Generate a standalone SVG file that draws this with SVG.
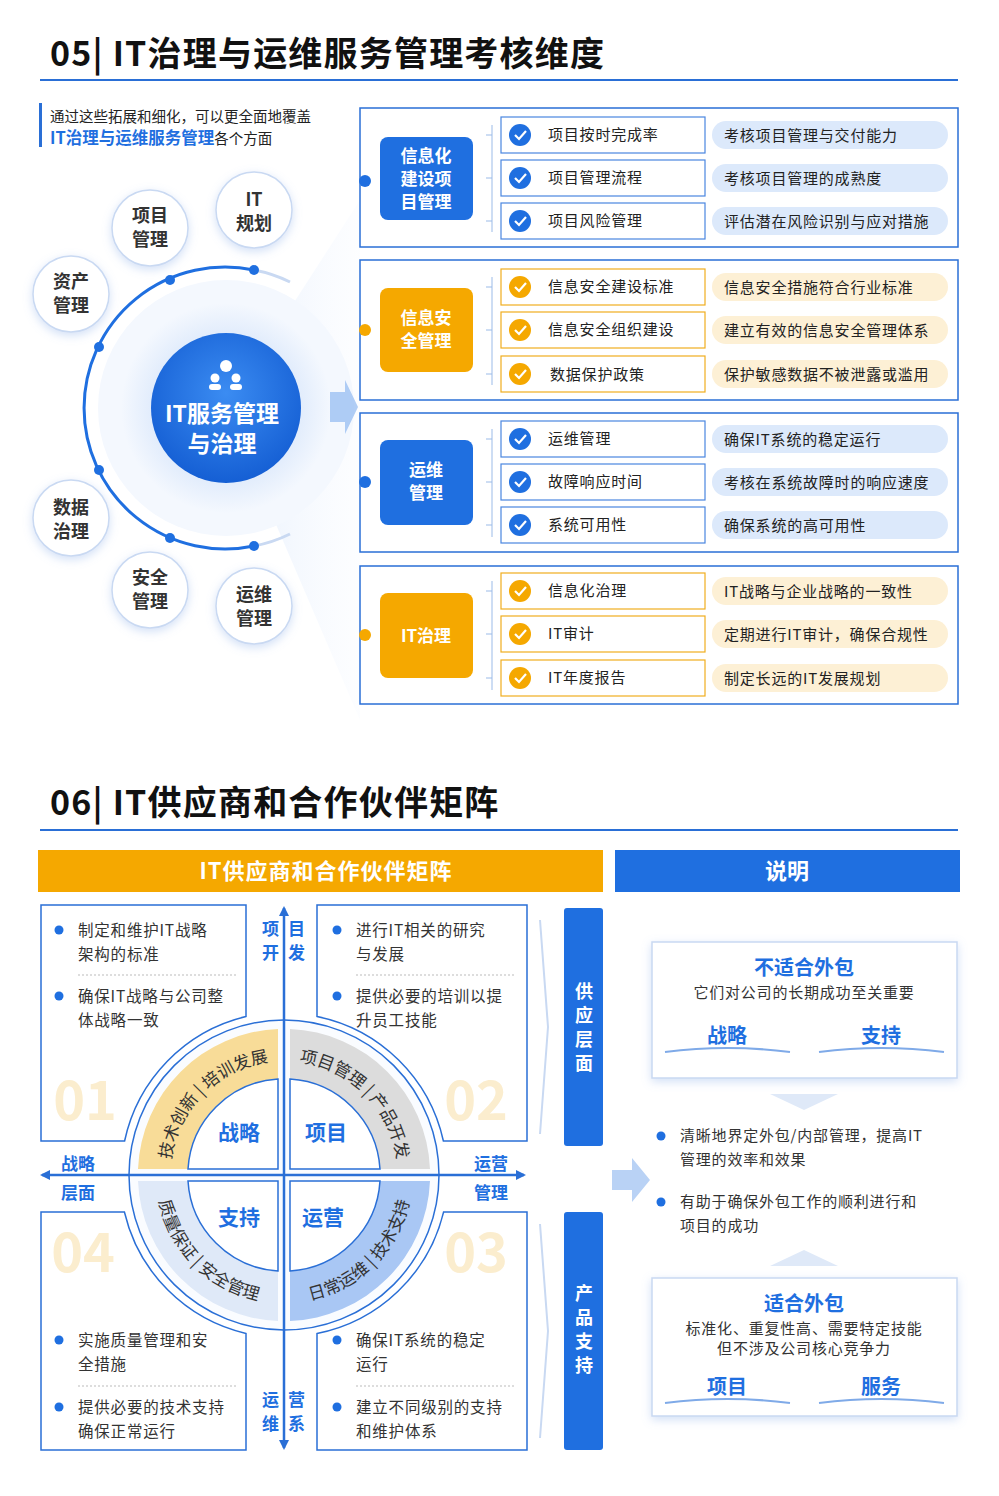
<svg xmlns="http://www.w3.org/2000/svg" width="999" height="1496" viewBox="0 0 999 1496">
<defs>
<style>
text{font-family:"Noto Sans CJK SC","Noto Sans",sans-serif;fill:#222}
.ttl{font-size:34px;font-weight:700;fill:#111;letter-spacing:1.2px}
.b{font-weight:700}
.w{fill:#fff}
.blue{fill:#1f6fe0}
.panel{fill:#fff;stroke:#2a6fd6;stroke-width:1.5}
.item{fill:#fff;stroke:#4a86e0;stroke-width:1.2}
.itemo{fill:#fff;stroke:#f0ad1e;stroke-width:1.2}
.pb{fill:#dce9fb}
.po{fill:#fdf0d5}
.it{font-size:15px;fill:#222;letter-spacing:0.8px}
.sc{fill:#fff;stroke:#c9d9f2;stroke-width:1.5;filter:url(#sh)}
.sct{font-size:18px;font-weight:700;fill:#333;text-anchor:middle}
.qb{fill:#fff;stroke:#2a6fd6;stroke-width:1.5}
.qt{font-size:15.5px;fill:#333;letter-spacing:0.8px}
.num{font-size:54px;font-weight:700;fill:#fbedce}
.ax{stroke:#2a6fd6;stroke-width:2.5;fill:none}
.arc{font-size:17px;fill:#333}
.inner{font-size:21px;font-weight:700;fill:#1f6fe0;text-anchor:middle}
.bt{font-size:15px;fill:#333;letter-spacing:0.8px}
</style>
<filter id="sh" x="-30%" y="-30%" width="160%" height="160%"><feDropShadow dx="0" dy="3" stdDeviation="5" flood-color="#7fa6e6" flood-opacity="0.35"/></filter>
<radialGradient id="cg" cx="50%" cy="40%" r="60%"><stop offset="0" stop-color="#3b8cf2"/><stop offset="1" stop-color="#155fd4"/></radialGradient>
<radialGradient id="halo" cx="50%" cy="50%" r="50%"><stop offset="0.6" stop-color="#dbe8fb"/><stop offset="1" stop-color="#f4f8fe"/></radialGradient>
<linearGradient id="fan" x1="0" x2="1"><stop offset="0" stop-color="#e6effc"/><stop offset="1" stop-color="#f7faff" stop-opacity="0.3"/></linearGradient>
<marker id="ah" markerWidth="10" markerHeight="10" refX="8" refY="5" orient="auto-start-reverse" markerUnits="userSpaceOnUse"><path d="M0,0 L10,5 L0,10 Z" fill="#2a6fd6"/></marker>
<path id="pTL" d="M170,1175 A114,114 0 0 1 284,1061"/>
<path id="pTR" d="M284,1061 A114,114 0 0 1 398,1175"/>
<path id="pBL" d="M156,1175 A128,128 0 0 0 284,1303"/>
<path id="pBR" d="M284,1303 A128,128 0 0 0 412,1175"/>
</defs>
<rect width="999" height="1496" fill="#fff"/>

<g id="title05"><text x="50" y="66" class="ttl">05| IT治理与运维服务管理考核维度</text>
<line x1="40" y1="80" x2="958" y2="80" stroke="#2a6fd6" stroke-width="2"/></g>
<g id="subtitle"><rect x="39" y="103" width="3" height="44" fill="#2a6fd6"/>
<text x="50" y="122" font-size="14.5">通过这些拓展和细化，可以更全面地覆盖</text>
<text x="50" y="144" font-size="16.5"><tspan class="b blue">IT治理与运维服务管理</tspan><tspan font-size="14.5">各个方面</tspan></text></g>

<path d="M226,408 L360,200 L360,720 Z" fill="url(#fan)"/>
<g id="center">
<circle cx="226" cy="408" r="128" fill="#f4f8fe"/>
<circle cx="226" cy="408" r="105" fill="url(#halo)"/>
<circle cx="226" cy="408" r="75" fill="url(#cg)"/>
<circle cx="226" cy="366" r="6" fill="#fff"/><circle cx="215" cy="378" r="4.5" fill="#fff"/><circle cx="236" cy="378" r="4.5" fill="#fff"/>
<rect x="209" y="384" width="12" height="6" rx="3" fill="#fff"/><rect x="230" y="384" width="12" height="6" rx="3" fill="#fff"/>
<text x="222" y="422" class="b w" font-size="23" text-anchor="middle">IT服务管理</text>
<text x="222" y="452" class="b w" font-size="23" text-anchor="middle">与治理</text>
</g>
<g id="ring">
<path d="M254,270 A141,141 0 1 0 254,546" fill="none" stroke="#1f6fe0" stroke-width="3"/>
<path d="M254,270 A141,141 0 0 1 290,282" fill="none" stroke="#c9d9f2" stroke-width="3"/>
<path d="M254,546 A141,141 0 0 0 290,534" fill="none" stroke="#c9d9f2" stroke-width="3"/>
<g fill="#1f6fe0"><circle cx="254" cy="270" r="5"/><circle cx="170" cy="280" r="5"/><circle cx="99" cy="347" r="5"/><circle cx="99" cy="470" r="5"/><circle cx="170" cy="538" r="5"/><circle cx="254" cy="546" r="5"/></g>
</g>
<path d="M330,392 L345,392 L345,380 L358,407 L345,434 L345,422 L330,422 Z" fill="#9cc0f3" opacity="0.8"/>
<g id="s1"><circle cx="150" cy="228" r="38" class="sc"/><text x="150" y="222" class="sct">项目</text><text x="150" y="246" class="sct">管理</text></g>
<g id="s2"><circle cx="254" cy="210" r="38" class="sc"/><text x="254" y="206" class="sct">IT</text><text x="254" y="230" class="sct">规划</text></g>
<g id="s3"><circle cx="71" cy="294" r="38" class="sc"/><text x="71" y="288" class="sct">资产</text><text x="71" y="312" class="sct">管理</text></g>
<g id="s4"><circle cx="71" cy="518" r="38" class="sc"/><text x="71" y="514" class="sct">数据</text><text x="71" y="538" class="sct">治理</text></g>
<g id="s5"><circle cx="150" cy="590" r="38" class="sc"/><text x="150" y="584" class="sct">安全</text><text x="150" y="608" class="sct">管理</text></g>
<g id="s6"><circle cx="254" cy="606" r="38" class="sc"/><text x="254" y="601" class="sct">运维</text><text x="254" y="625" class="sct">管理</text></g>

<g id="panel1">
<rect x="360" y="108" width="598" height="139" class="panel"/>
<circle cx="365" cy="181" r="6" fill="#1f6fe0"/>
<rect x="380" y="137" width="93" height="83" rx="8" fill="#1f6fe0"/>
<text x="426" y="162" class="b w" font-size="17" text-anchor="middle">信息化</text><text x="426" y="185" class="b w" font-size="17" text-anchor="middle">建设项</text><text x="426" y="208" class="b w" font-size="17" text-anchor="middle">目管理</text>
<path d="M492,125 V232 M486,135 H492 M486,178 H492 M486,221 H492" stroke="#9bbbe8" fill="none"/>
<rect x="501" y="117" width="204" height="36" class="item"/><circle cx="520" cy="135" r="11" fill="#1f6fe0"/><path d="M515,135 l4,4 l7,-8" stroke="#fff" stroke-width="2.2" fill="none"/><text x="548" y="140" class="it">项目按时完成率</text>
<rect x="712" y="121" width="236" height="28" rx="14" class="pb"/><text x="724" y="141" class="it">考核项目管理与交付能力</text>
<rect x="501" y="160" width="204" height="36" class="item"/><circle cx="520" cy="178" r="11" fill="#1f6fe0"/><path d="M515,178 l4,4 l7,-8" stroke="#fff" stroke-width="2.2" fill="none"/><text x="548" y="183" class="it">项目管理流程</text>
<rect x="712" y="164" width="236" height="28" rx="14" class="pb"/><text x="724" y="184" class="it">考核项目管理的成熟度</text>
<rect x="501" y="203" width="204" height="36" class="item"/><circle cx="520" cy="221" r="11" fill="#1f6fe0"/><path d="M515,221 l4,4 l7,-8" stroke="#fff" stroke-width="2.2" fill="none"/><text x="548" y="226" class="it">项目风险管理</text>
<rect x="712" y="207" width="236" height="28" rx="14" class="pb"/><text x="724" y="227" class="it">评估潜在风险识别与应对措施</text>
</g>
<g id="panel2">
<rect x="360" y="260" width="598" height="140" class="panel"/>
<circle cx="365" cy="330" r="6" fill="#f5a800"/>
<rect x="380" y="288" width="93" height="84" rx="8" fill="#f5a800"/>
<text x="426" y="324" class="b w" font-size="17" text-anchor="middle">信息安</text><text x="426" y="347" class="b w" font-size="17" text-anchor="middle">全管理</text>
<path d="M492,277 V385 M486,287 H492 M486,330 H492 M486,374 H492" stroke="#9bbbe8" fill="none"/>
<rect x="501" y="269" width="204" height="36" class="itemo"/><circle cx="520" cy="287" r="11" fill="#f5a800"/><path d="M515,287 l4,4 l7,-8" stroke="#fff" stroke-width="2.2" fill="none"/><text x="548" y="292" class="it">信息安全建设标准</text>
<rect x="712" y="273" width="236" height="28" rx="14" class="po"/><text x="724" y="293" class="it">信息安全措施符合行业标准</text>
<rect x="501" y="312" width="204" height="36" class="itemo"/><circle cx="520" cy="330" r="11" fill="#f5a800"/><path d="M515,330 l4,4 l7,-8" stroke="#fff" stroke-width="2.2" fill="none"/><text x="548" y="335" class="it">信息安全组织建设</text>
<rect x="712" y="316" width="236" height="28" rx="14" class="po"/><text x="724" y="336" class="it">建立有效的信息安全管理体系</text>
<rect x="501" y="356" width="204" height="36" class="itemo"/><circle cx="520" cy="374" r="11" fill="#f5a800"/><path d="M515,374 l4,4 l7,-8" stroke="#fff" stroke-width="2.2" fill="none"/><text x="550" y="380" class="it">数据保护政策</text>
<rect x="712" y="360" width="236" height="28" rx="14" class="po"/><text x="724" y="380" class="it">保护敏感数据不被泄露或滥用</text>
</g>
<g id="panel3">
<rect x="360" y="413" width="598" height="139" class="panel"/>
<circle cx="365" cy="482" r="6" fill="#1f6fe0"/>
<rect x="380" y="440" width="93" height="85" rx="8" fill="#1f6fe0"/>
<text x="426" y="476" class="b w" font-size="17" text-anchor="middle">运维</text><text x="426" y="499" class="b w" font-size="17" text-anchor="middle">管理</text>
<path d="M492,429 V537 M486,439 H492 M486,482 H492 M486,525 H492" stroke="#9bbbe8" fill="none"/>
<rect x="501" y="421" width="204" height="36" class="item"/><circle cx="520" cy="439" r="11" fill="#1f6fe0"/><path d="M515,439 l4,4 l7,-8" stroke="#fff" stroke-width="2.2" fill="none"/><text x="548" y="444" class="it">运维管理</text>
<rect x="712" y="425" width="236" height="28" rx="14" class="pb"/><text x="724" y="445" class="it">确保IT系统的稳定运行</text>
<rect x="501" y="464" width="204" height="36" class="item"/><circle cx="520" cy="482" r="11" fill="#1f6fe0"/><path d="M515,482 l4,4 l7,-8" stroke="#fff" stroke-width="2.2" fill="none"/><text x="548" y="487" class="it">故障响应时间</text>
<rect x="712" y="468" width="236" height="28" rx="14" class="pb"/><text x="724" y="488" class="it">考核在系统故障时的响应速度</text>
<rect x="501" y="507" width="204" height="36" class="item"/><circle cx="520" cy="525" r="11" fill="#1f6fe0"/><path d="M515,525 l4,4 l7,-8" stroke="#fff" stroke-width="2.2" fill="none"/><text x="548" y="530" class="it">系统可用性</text>
<rect x="712" y="511" width="236" height="28" rx="14" class="pb"/><text x="724" y="531" class="it">确保系统的高可用性</text>
</g>
<g id="panel4">
<rect x="360" y="566" width="598" height="138" class="panel"/>
<circle cx="365" cy="635" r="6" fill="#f5a800"/>
<rect x="380" y="593" width="93" height="85" rx="8" fill="#f5a800"/>
<text x="426" y="642" class="b w" font-size="17" text-anchor="middle">IT治理</text>
<path d="M492,581 V690 M486,591 H492 M486,634 H492 M486,678 H492" stroke="#9bbbe8" fill="none"/>
<rect x="501" y="573" width="204" height="36" class="itemo"/><circle cx="520" cy="591" r="11" fill="#f5a800"/><path d="M515,591 l4,4 l7,-8" stroke="#fff" stroke-width="2.2" fill="none"/><text x="548" y="596" class="it">信息化治理</text>
<rect x="712" y="577" width="236" height="28" rx="14" class="po"/><text x="724" y="597" class="it">IT战略与企业战略的一致性</text>
<rect x="501" y="616" width="204" height="36" class="itemo"/><circle cx="520" cy="634" r="11" fill="#f5a800"/><path d="M515,634 l4,4 l7,-8" stroke="#fff" stroke-width="2.2" fill="none"/><text x="548" y="639" class="it">IT审计</text>
<rect x="712" y="620" width="236" height="28" rx="14" class="po"/><text x="724" y="640" class="it">定期进行IT审计，确保合规性</text>
<rect x="501" y="660" width="204" height="36" class="itemo"/><circle cx="520" cy="678" r="11" fill="#f5a800"/><path d="M515,678 l4,4 l7,-8" stroke="#fff" stroke-width="2.2" fill="none"/><text x="548" y="683" class="it">IT年度报告</text>
<rect x="712" y="664" width="236" height="28" rx="14" class="po"/><text x="724" y="684" class="it">制定长远的IT发展规划</text>
</g>

<g id="title06"><text x="50" y="815" class="ttl">06| IT供应商和合作伙伴矩阵</text>
<line x1="40" y1="830" x2="958" y2="830" stroke="#2a6fd6" stroke-width="2"/></g>
<g id="hdr1"><rect x="38" y="850" width="565" height="42" fill="#f5a800"/><text x="326" y="879" class="b w" font-size="22" text-anchor="middle" letter-spacing="1">IT供应商和合作伙伴矩阵</text></g>
<g id="hdr2"><rect x="615" y="850" width="345" height="42" fill="#1f6fe0"/><text x="787" y="879" class="b w" font-size="22" text-anchor="middle">说明</text></g>

<g id="qTL"><path d="M41,905 H246 V1016.5 A163,163 0 0 0 124.6,1141 H41 Z" class="qb"/>
<text x="85" y="1120" class="num" text-anchor="middle">01</text>
<circle cx="59" cy="930" r="4.5" fill="#1f6fe0"/><text x="78" y="936" class="qt">制定和维护IT战略</text><text x="78" y="960" class="qt">架构的标准</text>
<line x1="78" y1="975" x2="238" y2="975" stroke="#bbb" stroke-dasharray="2 2"/>
<circle cx="59" cy="996" r="4.5" fill="#1f6fe0"/><text x="78" y="1002" class="qt">确保IT战略与公司整</text><text x="78" y="1026" class="qt">体战略一致</text></g>
<g id="qTR"><path d="M527,905 H317 V1016.5 A163,163 0 0 1 443.4,1141 H527 Z" class="qb"/>
<text x="476" y="1120" class="num" text-anchor="middle">02</text>
<circle cx="337" cy="930" r="4.5" fill="#1f6fe0"/><text x="356" y="936" class="qt">进行IT相关的研究</text><text x="356" y="960" class="qt">与发展</text>
<line x1="356" y1="975" x2="516" y2="975" stroke="#bbb" stroke-dasharray="2 2"/>
<circle cx="337" cy="996" r="4.5" fill="#1f6fe0"/><text x="356" y="1002" class="qt">提供必要的培训以提</text><text x="356" y="1026" class="qt">升员工技能</text></g>
<g id="qBL"><path d="M41,1212 H124.4 A163,163 0 0 0 246,1333.5 V1450 H41 Z" class="qb"/>
<text x="83" y="1272" class="num" text-anchor="middle">04</text>
<circle cx="59" cy="1340" r="4.5" fill="#1f6fe0"/><text x="78" y="1346" class="qt">实施质量管理和安</text><text x="78" y="1370" class="qt">全措施</text>
<line x1="78" y1="1386" x2="238" y2="1386" stroke="#bbb" stroke-dasharray="2 2"/>
<circle cx="59" cy="1407" r="4.5" fill="#1f6fe0"/><text x="78" y="1413" class="qt">提供必要的技术支持</text><text x="78" y="1437" class="qt">确保正常运行</text></g>
<g id="qBR"><path d="M527,1212 H443.6 A163,163 0 0 1 317,1333.5 V1450 H527 Z" class="qb"/>
<text x="476" y="1272" class="num" text-anchor="middle">03</text>
<circle cx="337" cy="1340" r="4.5" fill="#1f6fe0"/><text x="356" y="1346" class="qt">确保IT系统的稳定</text><text x="356" y="1370" class="qt">运行</text>
<line x1="356" y1="1386" x2="516" y2="1386" stroke="#bbb" stroke-dasharray="2 2"/>
<circle cx="337" cy="1407" r="4.5" fill="#1f6fe0"/><text x="356" y="1413" class="qt">建立不同级别的支持</text><text x="356" y="1437" class="qt">和维护体系</text></g>

<g id="wheel">
<circle cx="284" cy="1175" r="155" fill="#fafcff" stroke="#2a6fd6" stroke-width="1.5"/>
<path d="M138,1169 A146,146 0 0 1 278,1029 V1079 A96,96 0 0 0 188,1169 Z" fill="#f8dc98"/>
<path d="M290,1029 A146,146 0 0 1 430,1169 H380 A96,96 0 0 0 290,1079 Z" fill="#dcdcdc"/>
<path d="M138,1181 A146,146 0 0 0 278,1321 V1271 A96,96 0 0 1 188,1181 Z" fill="#dfe9f8"/>
<path d="M290,1321 A146,146 0 0 0 430,1181 H380 A96,96 0 0 1 290,1271 Z" fill="#a9c7f4"/>
<path d="M188,1169 A96,96 0 0 1 278,1079 V1169 Z" fill="#fff" stroke="#2a6fd6" stroke-width="1.5"/>
<path d="M290,1079 A96,96 0 0 1 380,1169 H290 Z" fill="#fff" stroke="#2a6fd6" stroke-width="1.5"/>
<path d="M188,1181 A96,96 0 0 0 278,1271 V1181 Z" fill="#fff" stroke="#2a6fd6" stroke-width="1.5"/>
<path d="M290,1271 A96,96 0 0 0 380,1181 H290 Z" fill="#fff" stroke="#2a6fd6" stroke-width="1.5"/>
<text class="arc"><textPath href="#pTL" startOffset="50%" text-anchor="middle">技术创新 | 培训发展</textPath></text>
<text class="arc"><textPath href="#pTR" startOffset="50%" text-anchor="middle">项目管理 | 产品开发</textPath></text>
<text class="arc"><textPath href="#pBL" startOffset="50%" text-anchor="middle">质量保证 | 安全管理</textPath></text>
<text class="arc"><textPath href="#pBR" startOffset="50%" text-anchor="middle">日常运维 | 技术支持</textPath></text>
<text x="239" y="1140" class="inner">战略</text>
<text x="326" y="1140" class="inner">项目</text>
<text x="239" y="1225" class="inner">支持</text>
<text x="323" y="1225" class="inner">运营</text>
</g>
<g id="connectors">
<line x1="284" y1="908" x2="284" y2="1448" class="ax" marker-start="url(#ah)" marker-end="url(#ah)"/>
<line x1="42" y1="1175" x2="524" y2="1175" class="ax" marker-start="url(#ah)" marker-end="url(#ah)"/>
<path d="M612,1170 H632 V1158 L650,1180 L632,1202 V1190 H612 Z" fill="#b9d2f5"/>
</g>
<g id="axisLabels">
<text x="262" y="935" class="b blue" font-size="17">项</text><text x="288" y="935" class="b blue" font-size="17">目</text>
<text x="262" y="959" class="b blue" font-size="17">开</text><text x="288" y="959" class="b blue" font-size="17">发</text>
<text x="262" y="1406" class="b blue" font-size="17">运</text><text x="288" y="1406" class="b blue" font-size="17">营</text>
<text x="262" y="1430" class="b blue" font-size="17">维</text><text x="288" y="1430" class="b blue" font-size="17">系</text>
<text x="78" y="1170" class="b blue" font-size="17" text-anchor="middle">战略</text><text x="78" y="1199" class="b blue" font-size="17" text-anchor="middle">层面</text>
<text x="491" y="1170" class="b blue" font-size="17" text-anchor="middle">运营</text><text x="491" y="1199" class="b blue" font-size="17" text-anchor="middle">管理</text>
</g>
<g id="bar1"><rect x="564" y="908" width="39" height="238" rx="3" fill="#1f6fe0"/>
<path d="M540,920 L548,1027 L540,1134" stroke="#c9d9f2" stroke-width="2" fill="none"/>
<text x="584" y="998" class="b w" font-size="18" text-anchor="middle">供</text><text x="584" y="1022" class="b w" font-size="18" text-anchor="middle">应</text><text x="584" y="1046" class="b w" font-size="18" text-anchor="middle">层</text><text x="584" y="1070" class="b w" font-size="18" text-anchor="middle">面</text></g>
<g id="bar2"><rect x="564" y="1212" width="39" height="238" rx="3" fill="#1f6fe0"/>
<path d="M540,1224 L548,1331 L540,1438" stroke="#c9d9f2" stroke-width="2" fill="none"/>
<text x="584" y="1300" class="b w" font-size="18" text-anchor="middle">产</text><text x="584" y="1324" class="b w" font-size="18" text-anchor="middle">品</text><text x="584" y="1348" class="b w" font-size="18" text-anchor="middle">支</text><text x="584" y="1372" class="b w" font-size="18" text-anchor="middle">持</text></g>

<g id="noOut"><rect x="652" y="942" width="305" height="136" fill="#fff" stroke="#c9d9f2" stroke-width="1.5" filter="url(#sh)"/>
<text x="804" y="975" class="b blue" font-size="20" text-anchor="middle">不适合外包</text>
<text x="804" y="998" class="bt" text-anchor="middle">它们对公司的长期成功至关重要</text>
<text x="727" y="1043" class="b blue" font-size="20" text-anchor="middle">战略</text>
<text x="881" y="1043" class="b blue" font-size="20" text-anchor="middle">支持</text>
<path d="M665,1052 Q727,1044 790,1052" stroke="#7faae8" stroke-width="2" fill="none"/>
<path d="M819,1052 Q881,1044 944,1052" stroke="#7faae8" stroke-width="2" fill="none"/></g>
<path d="M770,1094 L804,1110 L838,1094" fill="#dfe9f8"/>
<g id="notes"><circle cx="661" cy="1136" r="4.5" fill="#1f6fe0"/><text x="680" y="1141" class="bt">清晰地界定外包/内部管理，提高IT</text><text x="680" y="1165" class="bt">管理的效率和效果</text>
<circle cx="661" cy="1202" r="4.5" fill="#1f6fe0"/><text x="680" y="1207" class="bt">有助于确保外包工作的顺利进行和</text><text x="680" y="1231" class="bt">项目的成功</text></g>
<path d="M770,1266 L804,1250 L838,1266" fill="#dfe9f8"/>
<g id="yesOut"><rect x="652" y="1278" width="305" height="138" fill="#fff" stroke="#c9d9f2" stroke-width="1.5" filter="url(#sh)"/>
<text x="804" y="1311" class="b blue" font-size="20" text-anchor="middle">适合外包</text>
<text x="804" y="1334" class="bt" text-anchor="middle">标准化、重复性高、需要特定技能</text>
<text x="804" y="1354" class="bt" text-anchor="middle">但不涉及公司核心竞争力</text>
<text x="727" y="1394" class="b blue" font-size="20" text-anchor="middle">项目</text>
<text x="881" y="1394" class="b blue" font-size="20" text-anchor="middle">服务</text>
<path d="M665,1403 Q727,1395 790,1403" stroke="#7faae8" stroke-width="2" fill="none"/>
<path d="M819,1403 Q881,1395 944,1403" stroke="#7faae8" stroke-width="2" fill="none"/></g>
</svg>
